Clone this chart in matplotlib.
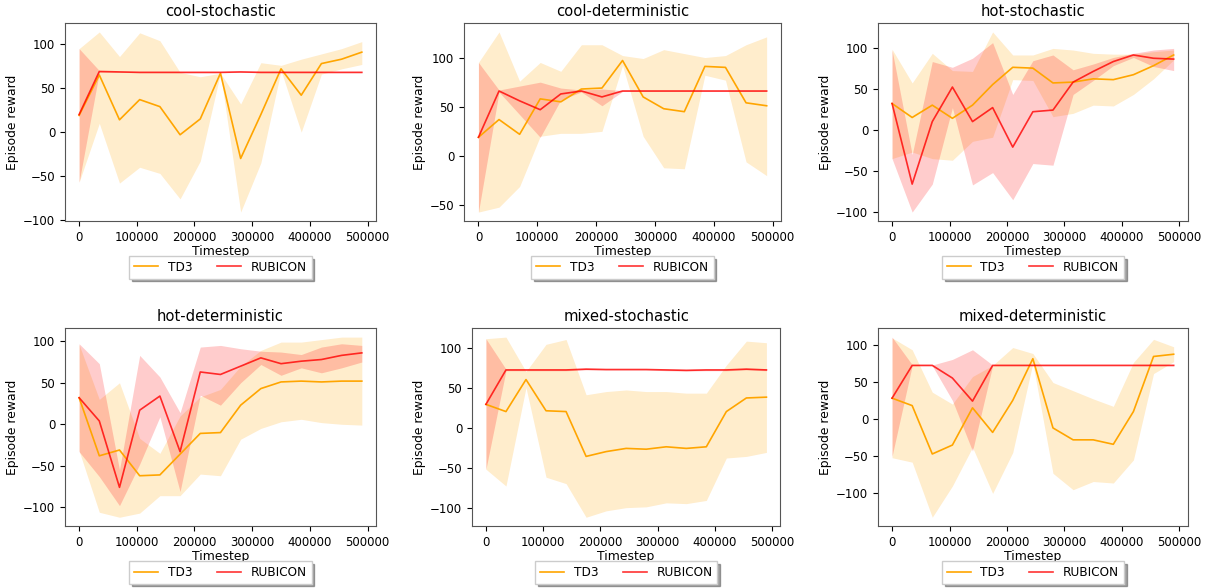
import matplotlib
matplotlib.use("Agg")
import matplotlib.pyplot as plt
import numpy as np

timesteps = [0, 35000, 70000, 105000, 140000, 175000, 210000, 245000,
             280000, 315000, 350000, 385000, 420000, 455000, 490000]

titles = ["cool-stochastic", "cool-deterministic", "hot-stochastic",
          "hot-deterministic", "mixed-stochastic", "mixed-deterministic"]

# TD3: mean, upper, lower
td3_mean = [
    [19, 65, 14, 37, 29, -3, 15, 67, -30, 20, 72, 42, 78, 83, 91],
    [19, 37, 22, 58, 55, 68, 69, 97, 60, 48, 45, 91, 90, 54, 51],
    [32, 15, 30, 14, 30, 55, 76, 75, 57, 58, 62, 61, 67, 78, 91],
    [32, -38, -31, -62, -61, -36, -11, -10, 23, 43, 51, 52, 51, 52, 52],
    [29, 20, 60, 21, 20, -36, -30, -26, -27, -24, -26, -24, 20, 37, 38],
    [28, 18, -47, -35, 15, -18, 25, 81, -12, -28, -28, -34, 10, 84, 87],
]
td3_upper = [
    [95, 114, 86, 113, 104, 68, 63, 67, 32, 79, 76, 83, 89, 95, 103],
    [95, 126, 76, 95, 86, 113, 113, 102, 99, 108, 104, 100, 102, 113, 121],
    [98, 57, 93, 72, 71, 119, 91, 91, 99, 97, 93, 92, 92, 95, 97],
    [96, 30, 50, -17, -35, 10, 33, 42, 70, 89, 99, 99, 102, 105, 105],
    [111, 113, 70, 104, 110, 41, 45, 47, 45, 45, 43, 43, 78, 108, 106],
    [109, 93, 36, 20, 57, 72, 96, 88, 49, 38, 27, 17, 76, 107, 97],
]
td3_lower = [
    [-57, 10, -58, -40, -47, -76, -33, 67, -91, -35, 70, 0, 66, 72, 77],
    [-57, -52, -31, 20, 23, 23, 25, 92, 20, -12, -13, 82, 77, -6, -20],
    [-35, -27, -35, -37, -14, -9, 61, 60, 16, 20, 30, 29, 43, 62, 85],
    [-32, -106, -112, -107, -86, -86, -60, -62, -18, -5, 3, 6, 2, 0, -1],
    [-52, -73, 50, -62, -70, -112, -104, -100, -99, -94, -95, -91, -38, -36, -31],
    [-52, -58, -132, -90, -38, -100, -45, 75, -73, -95, -84, -86, -55, 61, 77],
]

# RUBICON: mean, upper, lower
rub_mean = [
    [20, 69, 68.5, 68, 68, 68, 68, 68, 68.5, 68, 68, 68, 68, 68, 68],
    [19, 66, 56, 47, 63, 66, 60, 66, 66, 66, 66, 66, 66, 66, 66],
    [32, -66, 10, 52, 10, 27, -21, 22, 24, 58, 71, 83, 91, 87, 86],
    [32, 4, -76, 17, 34, -33, 63, 60, 70, 80, 73, 76, 78, 83, 86],
    [29, 72, 72, 72, 72, 73, 72.5, 72.5, 72.5, 72, 71.5, 72, 72, 73, 72],
    [28, 72, 72, 55, 24, 72, 72, 72, 72, 72, 72, 72, 72, 72, 72],
]
rub_upper = [
    [95, 70, 69, 68.5, 68.5, 68.5, 68.5, 68.5, 69, 68.5, 68.5, 68.5, 68.5, 68.5, 68.5],
    [95, 67, 71, 75, 69, 67, 68, 66.5, 66.5, 66.5, 66.5, 66.5, 66.5, 66.5, 66.5],
    [97, -30, 83, 76, 87, 106, 43, 84, 91, 73, 80, 88, 93, 97, 99],
    [97, 73, -55, 83, 57, 14, 93, 95, 91, 88, 87, 84, 93, 97, 95],
    [111, 73, 73, 73, 73, 74, 73, 73, 73, 73, 72.5, 73, 73, 74, 73],
    [110, 73, 72.5, 80, 93, 72.5, 72.5, 72.5, 72.5, 72.5, 72.5, 72.5, 72.5, 72.5, 72.5],
]
rub_lower = [
    [-57, 68, 68, 67.5, 67.5, 67.5, 67.5, 67.5, 68, 67.5, 67.5, 67.5, 67.5, 67.5, 67.5],
    [-57, 65, 42, 19, 57, 65, 51, 65.5, 65.5, 65.5, 65.5, 65.5, 65.5, 65.5, 65.5],
    [-35, -100, -66, 27, -67, -52, -85, -41, -43, 43, 60, 78, 88, 77, 72],
    [-33, -63, -98, -48, 9, -81, 35, 23, 50, 72, 59, 68, 62, 68, 75],
    [-52, 71, 71, 71, 71, 72, 72, 72, 72, 71, 70.5, 71, 71, 72, 71],
    [-50, 71.5, 71.5, 25, -43, 71.5, 71.5, 71.5, 71.5, 71.5, 71.5, 71.5, 71.5, 71.5, 71.5],
]

# axes boxes in figure fractions (left, bottom, width, height)
positions = [
    (0.0537, 0.624, 0.257, 0.337),
    (0.3835, 0.624, 0.262, 0.337),
    (0.7256, 0.624, 0.256, 0.337),
    (0.0537, 0.105, 0.257, 0.337),
    (0.3900, 0.105, 0.255, 0.337),
    (0.7256, 0.105, 0.256, 0.337),
]

fig = plt.figure(figsize=(12.1, 5.88), dpi=100)
x = np.array(timesteps)

for i, title in enumerate(titles):
    ax = fig.add_axes(positions[i])
    ax.plot(x, td3_mean[i], color='orange', lw=1.2, label='TD3')
    ax.fill_between(x, td3_lower[i], td3_upper[i], color='orange', alpha=0.2, lw=0)
    ax.plot(x, rub_mean[i], color='red', lw=1.2, alpha=0.8, label='RUBICON')
    ax.fill_between(x, rub_lower[i], rub_upper[i], color='red', alpha=0.2, lw=0)
    ax.set_title(title, fontsize=10.6, pad=5)
    ax.set_xlabel('Timestep', fontsize=8.9, labelpad=1)
    ax.set_ylabel('Episode reward', fontsize=8.9, labelpad=3)
    ax.set_xticks([0, 100000, 200000, 300000, 400000, 500000])
    ax.tick_params(labelsize=8.5)
    for s in ax.spines.values():
        s.set_color('#555555')
    ax.legend(loc='upper center', bbox_to_anchor=(0.5, -0.145), ncol=2,
              shadow=True, fancybox=False, fontsize=8.7)

fig.savefig('out.png', dpi=100)
